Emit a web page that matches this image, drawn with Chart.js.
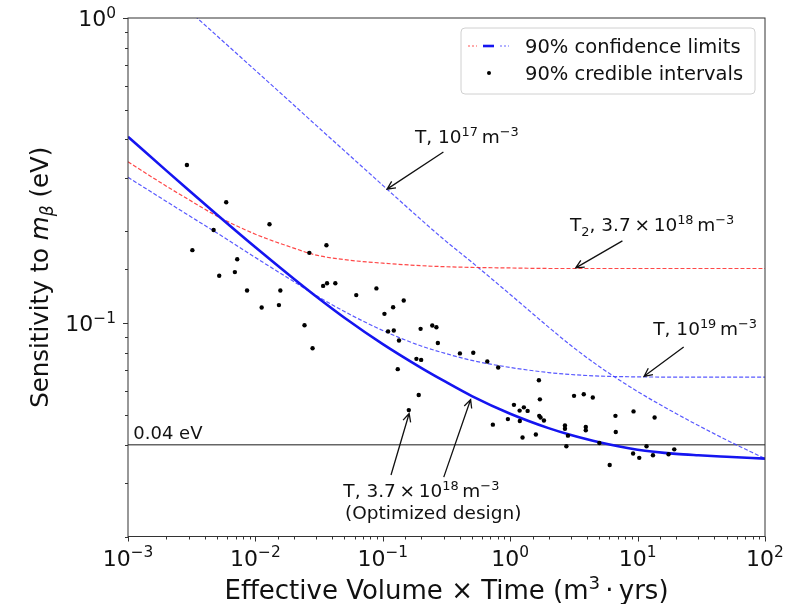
<!DOCTYPE html>
<html>
<head>
<meta charset="utf-8">
<script src="https://cdn.jsdelivr.net/npm/chart.js@4.4.1/dist/chart.umd.min.js"></script>
<style>
  html, body { margin: 0; padding: 0; background: #fff; }
  canvas { display: block; }
</style>
</head>
<body>
<canvas id="chart" width="786" height="604"></canvas>
<script>
// x = effective volume x time (m^3 yrs), y = sensitivity (eV)
const curveX = [0.001, 0.002, 0.003, 0.005, 0.01, 0.02, 0.03, 0.05, 0.1, 0.2, 0.3, 0.5,
                1, 2, 3, 5, 10, 20, 30, 50, 100];
const optimized = [0.4085, 0.3162, 0.2725, 0.2265, 0.1772, 0.1398, 0.1223, 0.1042, 0.0854, 0.0714, 0.0648, 0.0577,
                   0.0505, 0.0453, 0.0430, 0.0407, 0.0385, 0.0373, 0.0369, 0.0365, 0.0360];
const t2Limit = [0.338, 0.2812, 0.254, 0.2243, 0.1957, 0.1762, 0.1671, 0.1615, 0.1573, 0.1543, 0.1532, 0.1523,
                 0.1517, 0.1511, 0.1511, 0.1511, 0.1511, 0.1511, 0.1511, 0.1511, 0.1511];
const t19Limit = [0.3006, 0.2506, 0.2254, 0.1974, 0.1641, 0.1369, 0.1232, 0.1092, 0.0946, 0.0842, 0.0799, 0.0755,
                  0.0716, 0.0689, 0.0679, 0.0671, 0.0667, 0.0666, 0.0666, 0.0666, 0.0666];
const t17Limit = [1.6, 1.23, 1.058, 0.8736, 0.6734, 0.5188, 0.4447, 0.3671, 0.2829, 0.2183, 0.1884, 0.1584,
                  0.1242, 0.0971, 0.0845, 0.0721, 0.0597, 0.0506, 0.0462, 0.0414, 0.0360];

const credX = [0.0029, 0.0059, 0.0047, 0.0129, 0.0032, 0.0361, 0.0265, 0.0072, 0.0052, 0.0069,
               0.0086, 0.0157, 0.0153, 0.0112, 0.034, 0.0365, 0.0424, 0.0619, 0.0891, 0.0243,
               0.103, 0.1205, 0.146, 0.110, 0.122, 0.198, 0.2445, 0.2635, 0.0281, 0.134,
               0.2705, 0.1836, 0.200, 0.131, 0.403, 0.1914, 0.160, 0.513, 0.661, 0.805,
               1.68, 1.71, 1.07, 1.186, 1.28, 1.37, 1.73, 1.69, 1.84, 0.731,
               0.959, 1.19, 1.25, 1.59, 2.69, 2.69, 2.76, 2.84, 3.17, 3.78,
               4.45, 3.92, 3.92, 5.01, 6.04, 6.70, 6.74, 9.29, 9.22, 10.3,
               11.75, 13.2, 13.6, 17.5, 19.4];
const credY = [0.330, 0.249, 0.202, 0.211, 0.1735, 0.180, 0.170, 0.162, 0.143, 0.147,
               0.128, 0.128, 0.1146, 0.1125, 0.1325, 0.1352, 0.1352, 0.1236, 0.130, 0.0985,
               0.1073, 0.1128, 0.1187, 0.094, 0.0946, 0.0958, 0.0983, 0.097, 0.0828, 0.0878,
               0.0861, 0.0764, 0.0758, 0.0707, 0.0796, 0.0582, 0.0519, 0.080, 0.0749, 0.0716,
               0.065, 0.0563, 0.054, 0.0517, 0.053, 0.0516, 0.0491, 0.0497, 0.048, 0.0465,
               0.0485, 0.0478, 0.0422, 0.0432, 0.0462, 0.0451, 0.0395, 0.0428, 0.0578, 0.0585,
               0.0571, 0.0457, 0.0446, 0.0405, 0.0343, 0.0497, 0.044, 0.0514, 0.0374, 0.0362,
               0.0395, 0.0369, 0.0491, 0.0372, 0.0386];

const refLevel = 0.04;

const xTickLabels = ['10^{−3}', '10^{−2}', '10^{−1}', '10^{0}', '10^{1}', '10^{2}'];
const yTickLabels = ['10^{−1}', '10^{0}'];

// text notes: anchor in data coords (left, baseline)
const notes = [
  { text: 'T, 10^{17}\u2009m^{−3}', x: 0.179, y: 0.3895 },
  { text: 'T_{2}, 3.7\u2009×\u200910^{18}\u2009m^{−3}', x: 2.95, y: 0.1998 },
  { text: 'T, 10^{19}\u2009m^{−3}', x: 13.28, y: 0.0915 },
  { text: 'T, 3.7\u2009×\u200910^{18}\u2009m^{−3}', x: 0.049, y: 0.027 },
  { text: '(Optimized design)', x: 0.0505, y: 0.02283 },
  { text: '0.04 eV', x: 0.0011, y: 0.0417 }
];
// arrows: tail -> head in data coords
const arrows = [
  [0.299, 0.364, 0.108, 0.275],
  [7.6, 0.186, 3.27, 0.1518],
  [23, 0.0836, 11.25, 0.067],
  [0.116, 0.0318, 0.161, 0.0506],
  [0.301, 0.0313, 0.489, 0.0562]
];

const FONT = '"DejaVu Sans", sans-serif';
const pts = (xs, ys) => xs.map((x, i) => ({ x: x, y: ys[i] }));

// tiny markup: ^{..} superscript, _{..} subscript, *..* italic
function parseRich(str) {
  const parts = [];
  let i = 0, buf = '', italic = false;
  const flush = () => { if (buf) parts.push({ t: buf, k: 'n', i: italic }); buf = ''; };
  while (i < str.length) {
    const c = str[i];
    if ((c === '^' || c === '_') && str[i + 1] === '{') {
      flush();
      const end = str.indexOf('}', i);
      parts.push({ t: str.slice(i + 2, end), k: c === '^' ? 'sup' : 'sub', i: italic });
      i = end + 1;
    } else if (c === '*') {
      flush(); italic = !italic; i++;
    } else { buf += c; i++; }
  }
  flush();
  return parts;
}
function partFont(p, size) {
  const s = p.k === 'n' ? size : size * 0.7;
  return (p.i ? 'italic ' : '') + s.toFixed(1) + 'px ' + FONT;
}
function richWidth(ctx, parts, size) {
  let w = 0;
  parts.forEach(p => { ctx.font = partFont(p, size); w += ctx.measureText(p.t).width; });
  return w;
}
function drawRich(ctx, str, x, y, size, align) {
  const parts = parseRich(str);
  const w = richWidth(ctx, parts, size);
  let cx = align === 'center' ? x - w / 2 : align === 'right' ? x - w : x;
  ctx.textAlign = 'left';
  ctx.textBaseline = 'alphabetic';
  parts.forEach(p => {
    ctx.font = partFont(p, size);
    const dy = p.k === 'sup' ? -size * 0.38 : p.k === 'sub' ? size * 0.22 : 0;
    ctx.fillText(p.t, cx, y + dy);
    cx += ctx.measureText(p.t).width;
  });
}

function isDecade(v) {
  const l = Math.log10(v);
  return Math.abs(l - Math.round(l)) < 1e-6;
}

const decor = {
  id: 'decor',
  afterDatasetsDraw(chart) {
    const ctx = chart.ctx;
    const xs = chart.scales.x, ys = chart.scales.y;
    const a = chart.chartArea;
    ctx.save();
    ctx.fillStyle = '#111';

    // notes and arrows
    notes.forEach(n => {
      const size = n.text === '0.04 eV' ? 18 : 18.5;
      drawRich(ctx, n.text, xs.getPixelForValue(n.x), ys.getPixelForValue(n.y), size, 'left');
    });
    ctx.strokeStyle = '#111';
    ctx.lineWidth = 1.3;
    arrows.forEach(ar => {
      const x0 = xs.getPixelForValue(ar[0]), y0 = ys.getPixelForValue(ar[1]);
      const x1 = xs.getPixelForValue(ar[2]), y1 = ys.getPixelForValue(ar[3]);
      const ang = Math.atan2(y1 - y0, x1 - x0);
      ctx.beginPath();
      ctx.moveTo(x0, y0); ctx.lineTo(x1, y1);
      ctx.moveTo(x1 - 9 * Math.cos(ang - 0.45), y1 - 9 * Math.sin(ang - 0.45));
      ctx.lineTo(x1, y1);
      ctx.lineTo(x1 - 9 * Math.cos(ang + 0.45), y1 - 9 * Math.sin(ang + 0.45));
      ctx.stroke();
    });

    // legend
    const lx = a.right - 304, ly = a.top + 10, lw = 294, lh = 66;
    ctx.beginPath();
    ctx.roundRect(lx, ly, lw, lh, 4);
    ctx.fillStyle = 'rgba(255,255,255,0.85)';
    ctx.fill();
    ctx.strokeStyle = '#d0d0d0';
    ctx.lineWidth = 1;
    ctx.stroke();
    const r1 = ly + 18, r2 = ly + 47;
    ctx.lineWidth = 1.2;
    ctx.setLineDash([2, 2]);
    ctx.strokeStyle = 'rgba(255,40,40,0.8)';
    ctx.beginPath(); ctx.moveTo(lx + 7, r1); ctx.lineTo(lx + 16, r1); ctx.stroke();
    ctx.strokeStyle = 'rgba(60,60,255,0.8)';
    ctx.beginPath(); ctx.moveTo(lx + 39, r1); ctx.lineTo(lx + 48, r1); ctx.stroke();
    ctx.setLineDash([]);
    ctx.lineWidth = 2.6;
    ctx.strokeStyle = '#1515f0';
    ctx.beginPath(); ctx.moveTo(lx + 22, r1); ctx.lineTo(lx + 33, r1); ctx.stroke();
    ctx.fillStyle = '#000';
    ctx.beginPath(); ctx.arc(lx + 28, r2 - 2, 2, 0, Math.PI * 2); ctx.fill();
    ctx.fillStyle = '#111';
    drawRich(ctx, '90% confidence limits', lx + 64, r1 + 7, 19.5, 'left');
    drawRich(ctx, '90% credible intervals', lx + 64, r2 + 5, 19.5, 'left');

    // frame
    ctx.strokeStyle = '#333';
    ctx.lineWidth = 1;
    ctx.strokeRect(a.left, a.top, a.right - a.left, a.bottom - a.top);

    // ticks
    ctx.beginPath();
    xs.ticks.forEach(t => {
      const px = Math.round(xs.getPixelForValue(t.value)) + 0.5;
      const len = isDecade(t.value) ? 5 : 3;
      ctx.moveTo(px, a.bottom); ctx.lineTo(px, a.bottom + len);
    });
    ys.ticks.forEach(t => {
      const py = Math.round(ys.getPixelForValue(t.value)) + 0.5;
      const len = isDecade(t.value) ? 5 : 3;
      ctx.moveTo(a.left, py); ctx.lineTo(a.left - len, py);
    });
    ctx.stroke();

    // tick labels
    const xDecades = xs.ticks.filter(t => isDecade(t.value));
    xDecades.forEach((t, i) => {
      drawRich(ctx, xTickLabels[i], xs.getPixelForValue(t.value), a.bottom + 29, 22, 'center');
    });
    const yDecades = ys.ticks.filter(t => isDecade(t.value));
    yDecades.forEach((t, i) => {
      drawRich(ctx, yTickLabels[i], a.left - 12, ys.getPixelForValue(t.value) + 8, 22, 'right');
    });

    // axis titles
    drawRich(ctx, 'Effective Volume × Time (m^{3}\u2009·\u2009yrs)', (a.left + a.right) / 2, 599, 26, 'center');
    ctx.save();
    ctx.translate(48, (a.top + a.bottom) / 2);
    ctx.rotate(-Math.PI / 2);
    drawRich(ctx, 'Sensitivity to *m_{β}* (eV)', 0, 0, 24.5, 'center');
    ctx.restore();

    ctx.restore();
  }
};

const lineStyle = (color, width, dash) => ({
  showLine: true, pointRadius: 0, borderColor: color, borderWidth: width,
  borderDash: dash, cubicInterpolationMode: 'monotone', fill: false
});

new Chart(document.getElementById('chart'), {
  type: 'scatter',
  data: {
    datasets: [
      { label: '90% credible intervals', data: pts(credX, credY), pointRadius: 2.2,
        backgroundColor: '#000', borderWidth: 0 },
      Object.assign({ label: 'T, 3.7e18 (optimized)', data: pts(curveX, optimized) }, lineStyle('#1515f0', 2.6, [])),
      Object.assign({ label: 'T2, 3.7e18', data: pts(curveX, t2Limit) }, lineStyle('rgba(255,40,40,0.85)', 1.2, [4, 2])),
      Object.assign({ label: 'T, 1e19', data: pts(curveX, t19Limit) }, lineStyle('rgba(60,60,255,0.85)', 1.2, [4, 2])),
      Object.assign({ label: 'T, 1e17', data: pts(curveX, t17Limit) }, lineStyle('rgba(60,60,255,0.85)', 1.2, [4, 2])),
      Object.assign({ label: '0.04 eV', data: [{ x: 0.001, y: refLevel }, { x: 100, y: refLevel }] },
                    lineStyle('rgba(0,0,0,0.6)', 1.5, []))
    ]
  },
  options: {
    responsive: false,
    animation: false,
    layout: { padding: { left: 128, top: 18, right: 21, bottom: 67.5 } },
    plugins: { legend: { display: false }, tooltip: { enabled: false } },
    scales: {
      x: {
        type: 'logarithmic', min: 0.001, max: 100,
        ticks: { display: false }, grid: { display: false }, border: { display: false },
        afterFit: s => { s.height = 0; }
      },
      y: {
        type: 'logarithmic', min: 0.02, max: 1,
        ticks: { display: false }, grid: { display: false }, border: { display: false },
        afterFit: s => { s.width = 0; }
      }
    }
  },
  plugins: [decor]
});
</script>
</body>
</html>
